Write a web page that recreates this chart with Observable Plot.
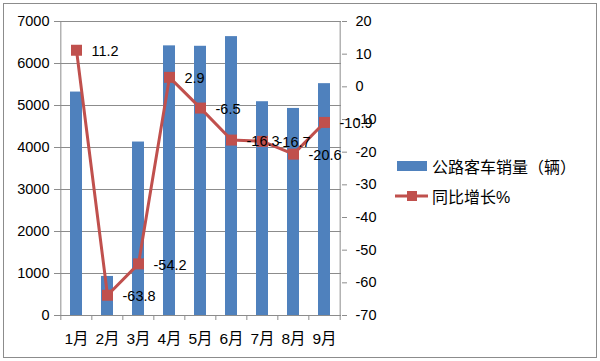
<!DOCTYPE html>
<html><head><meta charset="utf-8">
<script src="https://cdn.jsdelivr.net/npm/d3@7"></script>
<script src="https://cdn.jsdelivr.net/npm/@observablehq/plot@0.6"></script>
<style>
body{margin:0;background:#fff;}
#wrap{position:relative;width:600px;height:361px;overflow:hidden;font-family:"Liberation Sans","Noto Sans CJK SC",sans-serif;color:#000;}
#frame{position:absolute;left:3px;top:3px;width:594px;height:355px;box-sizing:border-box;border:1px solid #8c8c8c;pointer-events:none;}
#chart{position:absolute;left:0;top:0;}
.leg{position:absolute;left:395px;display:flex;align-items:center;font-size:16px;white-space:nowrap;}
.leg svg{margin-right:3px;}
</style>
</head><body>
<div id="wrap">
  <div id="chart"></div>
  <div id="frame"></div>
  <div class="leg" id="leg1" style="top:154px;"></div>
  <div class="leg" id="leg2" style="top:184px;"></div>
</div>
<script>
const months = ["1月","2月","3月","4月","5月","6月","7月","8月","9月"];
const sales = [5320, 930, 4130, 6420, 6410, 6640, 5090, 4930, 5520];
const growth = [11.2, -63.8, -54.2, 2.9, -6.5, -16.3, -16.7, -20.6, -10.9];
const leftTicks = [0, 1000, 2000, 3000, 4000, 5000, 6000, 7000];
const rightTicks = [-70, -60, -50, -40, -30, -20, -10, 0, 10, 20];
const seriesNames = ["公路客车销量（辆）", "同比增长%"];

const BAR = "#4F81BD", LINE = "#C0504D", GRID = "#8c8c8c";
const W = 600, H = 361, ML = 59, MR = 259, MT = 21, MB = 46;
const step = (W - ML - MR) / months.length;
const rMin = -70, rMax = 20, lMax = 7000;
const toLeft = g => (g - rMin) / (rMax - rMin) * lMax;
const fromLeft = v => v / lMax * (rMax - rMin) + rMin;

const rows = months.map((m, i) => ({month: m, sales: sales[i], growth: growth[i]}));
const font = '"Liberation Sans","Noto Sans CJK SC",sans-serif';

const chart = Plot.plot({
  width: W, height: H,
  marginLeft: ML, marginRight: MR, marginTop: MT, marginBottom: MB,
  style: {fontFamily: font, fontSize: "14px", color: "#000", background: "transparent"},
  x: {domain: months, paddingInner: 0.62, paddingOuter: 0.31, axis: null},
  y: {domain: [0, lMax], axis: null},
  marks: [
    Plot.ruleY(leftTicks, {stroke: GRID, strokeWidth: 1}),
    Plot.barY(rows, {x: "month", y: "sales", fill: BAR}),
    Plot.ruleX([months[0]], {dx: -step / 2, stroke: GRID, insetBottom: -5}),
    Plot.ruleX([months[months.length - 1]], {dx: step / 2, stroke: GRID, insetBottom: -5}),
    Plot.ruleX(months.slice(1), {dx: -step / 2, stroke: GRID, insetTop: H - MT - MB, insetBottom: -5}),
    Plot.axisY(leftTicks, {anchor: "left", label: null, tickSize: 5, tickPadding: 5, stroke: GRID, fill: "#000", fontSize: 14.5, tickFormat: d => String(d)}),
    Plot.axisY(rightTicks.map(toLeft), {anchor: "right", label: null, tickSize: 5, tickPadding: 9, stroke: GRID, fill: "#000", fontSize: 14.5, tickFormat: d => String(Math.round(fromLeft(d)))}),
    Plot.axisX({anchor: "bottom", label: null, tickSize: 0, tickPadding: 17, fill: "#000", fontSize: 15.5}),
    Plot.line(rows, {x: "month", y: d => toLeft(d.growth), stroke: LINE, strokeWidth: 3}),
    Plot.dot(rows, {x: "month", y: d => toLeft(d.growth), symbol: "square", r: 6.2, fill: LINE, stroke: "none"}),
    Plot.text(rows, {x: "month", y: d => toLeft(d.growth), text: d => String(d.growth), textAnchor: "start", dx: 15, dy: 1, fill: "#000", fontSize: 14.5})
  ]
});
document.getElementById("chart").appendChild(chart);

document.getElementById("leg1").innerHTML =
  `<svg width="34" height="20"><rect x="2" y="5" width="30" height="10" fill="${BAR}"/></svg><span>${seriesNames[0]}</span>`;
document.getElementById("leg2").innerHTML =
  `<svg width="34" height="20"><line x1="0" y1="10" x2="33" y2="10" stroke="${LINE}" stroke-width="3"/><rect x="12" y="5" width="10" height="10" fill="${LINE}"/></svg><span>${seriesNames[1]}</span>`;
</script>
</body></html>
